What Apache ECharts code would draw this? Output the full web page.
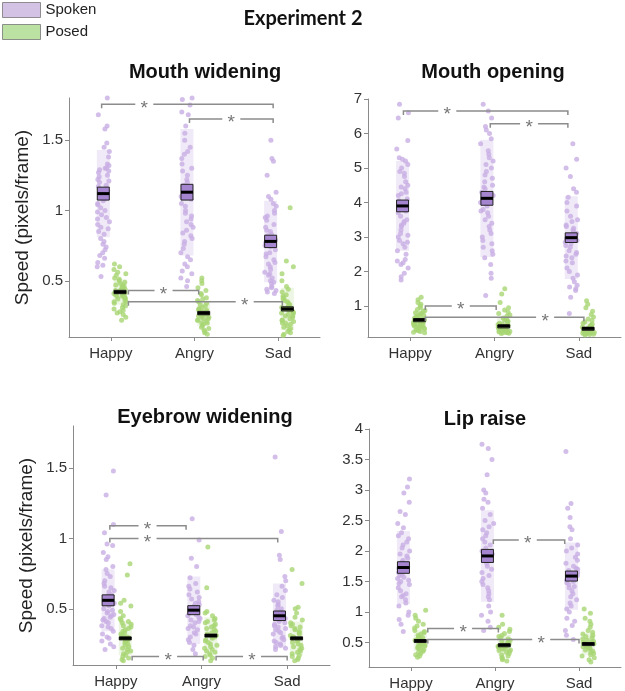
<!DOCTYPE html>
<html><head><meta charset="utf-8">
<script src="https://cdn.jsdelivr.net/npm/echarts@6/dist/echarts.min.js"></script>
<style>html,body{margin:0;padding:0;background:#fff}#c{width:625px;height:691px}</style>
</head><body><div id="c"></div><script>
// ---------------- DATA ----------------
const categories = ['Happy', 'Angry', 'Sad'];
const panelTitles = ['Mouth widening', 'Mouth opening', 'Eyebrow widening', 'Lip raise'];
const yRanges = [[0.1, 1.8], [0.1, 7], [0.1, 1.8], [0.1, 4]];
const yTickValues = [[0.5, 1, 1.5], [1, 2, 3, 4, 5, 6, 7], [0.5, 1, 1.5], [0.5, 1, 1.5, 2, 2.5, 3, 3.5, 4]];

// Mouth widening
const mouthWideningSpoken = [
  [1.8,1.68,1.6,1.58,1.48,1.45,1.42,1.38,1.33,1.32,1.3,1.3,1.29,1.28,1.27,1.25,1.24,1.22,1.21,1.2,1.18,1.17,1.15,1.14,1.12,1.1,1.08,1.07,1.05,1.04,1.02,1.0,0.99,0.97,0.95,0.94,0.92,0.9,0.88,0.87,0.85,0.83,0.8,0.78,0.76,0.74,0.72,0.7,0.68,0.66,0.63,0.61,0.6,0.53],
  [1.8,1.79,1.75,1.7,1.68,1.6,1.55,1.5,1.45,1.42,1.4,1.37,1.33,1.3,1.28,1.25,1.22,1.2,1.18,1.15,1.13,1.1,1.08,1.05,1.03,1.0,0.98,0.96,0.94,0.92,0.9,0.88,0.86,0.84,0.82,0.8,0.78,0.76,0.73,0.7,0.67,0.65,0.62,0.6,0.57,0.55,0.52,0.5,0.46],
  [1.5,1.37,1.35,1.25,1.13,1.1,1.08,1.05,1.03,1.0,0.98,0.96,0.95,0.93,0.9,0.88,0.86,0.85,0.83,0.82,0.8,0.79,0.78,0.77,0.75,0.74,0.72,0.7,0.69,0.67,0.65,0.63,0.62,0.6,0.58,0.56,0.55,0.54,0.52,0.5,0.49,0.48,0.46,0.45,0.44,0.43,0.42,0.41]
];
const mouthWideningPosed = [
  [0.62,0.6,0.58,0.56,0.55,0.54,0.52,0.51,0.5,0.49,0.48,0.47,0.47,0.46,0.45,0.45,0.44,0.44,0.43,0.43,0.42,0.42,0.41,0.41,0.4,0.4,0.39,0.39,0.38,0.38,0.37,0.37,0.36,0.35,0.35,0.34,0.33,0.32,0.31,0.3,0.29,0.28,0.27,0.26,0.24,0.22],
  [0.52,0.5,0.48,0.45,0.43,0.41,0.4,0.38,0.37,0.36,0.35,0.34,0.33,0.32,0.31,0.3,0.3,0.29,0.29,0.28,0.28,0.27,0.27,0.26,0.26,0.25,0.25,0.24,0.24,0.23,0.23,0.22,0.22,0.21,0.2,0.2,0.19,0.18,0.17,0.16,0.15,0.14,0.13,0.12],
  [1.02,0.64,0.6,0.55,0.5,0.46,0.44,0.42,0.4,0.39,0.38,0.37,0.36,0.35,0.34,0.33,0.32,0.31,0.31,0.3,0.3,0.29,0.28,0.28,0.27,0.27,0.26,0.25,0.25,0.24,0.23,0.22,0.22,0.21,0.2,0.2,0.19,0.18,0.17,0.16,0.15,0.14,0.13,0.12,0.11]
];
const mouthWideningSpokenStats = [[1.12, 0.31, 0.046], [1.13, 0.45, 0.056], [0.78, 0.29, 0.044]]; // mean, sd, sem
const mouthWideningPosedStats = [[0.42, 0.09, 0.012], [0.27, 0.09, 0.012], [0.30, 0.15, 0.015]];
const mouthWideningBrackets = [[0.89, 2.94, 1.755, 1.40], [1.94, 2.94, 1.65, 2.44], [1.21, 2.05, 0.43, 1.63], [1.21, 3.05, 0.35, 2.60]]; // x1, x2, y, star x

// Mouth opening
const mouthOpeningSpoken = [
  [6.85,6.6,6.45,5.8,5.55,5.3,5.25,5.2,5.1,5.0,4.9,4.85,4.75,4.6,4.5,4.45,4.4,4.3,4.25,4.2,4.1,4.05,4.0,3.95,3.9,3.85,3.8,3.75,3.7,3.6,3.5,3.45,3.4,3.35,3.3,3.2,3.1,3.05,3.0,2.9,2.85,2.8,2.7,2.6,2.5,2.35,2.3,2.25,2.2,2.1,1.95,1.85,1.75],
  [6.85,6.65,6.45,6.2,6.1,6.0,5.85,5.7,5.5,5.4,5.3,5.2,5.1,5.0,4.9,4.8,4.7,4.6,4.5,4.45,4.4,4.3,4.2,4.15,4.1,4.0,3.9,3.8,3.75,3.7,3.6,3.5,3.4,3.3,3.2,3.1,3.0,2.9,2.8,2.7,2.6,2.5,2.4,2.2,1.95,1.8,1.3],
  [5.7,5.25,5.0,4.75,4.4,4.3,4.15,4.0,3.9,3.75,3.6,3.5,3.45,3.35,3.3,3.25,3.2,3.15,3.1,3.05,3.0,2.95,2.9,2.85,2.8,2.75,2.7,2.6,2.55,2.5,2.45,2.4,2.3,2.25,2.1,2.0,1.9,1.8,1.7,1.6,1.55,1.5,1.45,1.25,0.78]
];
const mouthOpeningPosed = [
  [1.25,1.18,1.1,1.05,1.0,0.95,0.9,0.87,0.84,0.8,0.78,0.75,0.72,0.7,0.68,0.66,0.64,0.62,0.6,0.6,0.58,0.56,0.55,0.54,0.52,0.5,0.5,0.48,0.47,0.46,0.45,0.44,0.43,0.42,0.4,0.38,0.36,0.35,0.33,0.31,0.3,0.28,0.26,0.24,0.22],
  [1.5,1.35,1.1,0.95,0.88,0.82,0.78,0.74,0.7,0.65,0.62,0.6,0.56,0.53,0.5,0.48,0.46,0.44,0.42,0.4,0.38,0.37,0.36,0.35,0.34,0.33,0.32,0.31,0.3,0.3,0.29,0.28,0.27,0.26,0.25,0.24,0.23,0.22,0.21,0.2],
  [1.15,1.05,0.95,0.85,0.75,0.68,0.62,0.58,0.54,0.5,0.47,0.44,0.42,0.4,0.38,0.36,0.35,0.34,0.33,0.32,0.31,0.3,0.29,0.28,0.27,0.26,0.25,0.24,0.23,0.22,0.21,0.2,0.19,0.18,0.17,0.16]
];
const mouthOpeningSpokenStats = [[3.9, 1.3, 0.17], [4.12, 1.7, 0.2], [2.98, 1.2, 0.14]];
const mouthOpeningPosedStats = [[0.6, 0.25, 0.03], [0.42, 0.25, 0.03], [0.35, 0.2, 0.03]];
const mouthOpeningBrackets = [[0.92, 2.87, 6.65, 1.44], [1.95, 2.87, 6.28, 2.41], [1.18, 2.02, 1.0, 1.60], [1.18, 3.06, 0.67, 2.60]];

// Eyebrow widening
const eyebrowWideningSpoken = [
  [1.48,1.31,1.1,1.04,0.96,0.95,0.9,0.87,0.85,0.8,0.78,0.75,0.73,0.7,0.68,0.66,0.65,0.63,0.62,0.6,0.59,0.58,0.57,0.56,0.55,0.54,0.53,0.52,0.5,0.49,0.48,0.47,0.46,0.45,0.44,0.43,0.42,0.41,0.4,0.38,0.37,0.36,0.34,0.32,0.3,0.29,0.27,0.25,0.23,0.21],
  [1.14,0.99,0.86,0.8,0.72,0.68,0.66,0.64,0.62,0.6,0.58,0.57,0.55,0.54,0.53,0.52,0.51,0.5,0.49,0.48,0.47,0.46,0.45,0.44,0.43,0.42,0.41,0.4,0.38,0.37,0.36,0.35,0.33,0.32,0.3,0.28,0.26,0.24,0.21,0.18],
  [1.58,1.05,0.88,0.85,0.73,0.7,0.66,0.63,0.6,0.58,0.56,0.55,0.53,0.52,0.5,0.49,0.48,0.47,0.46,0.45,0.44,0.43,0.42,0.41,0.4,0.39,0.38,0.37,0.36,0.35,0.34,0.33,0.32,0.3,0.29,0.28,0.27,0.26,0.25,0.24,0.23,0.22,0.21]
];
const eyebrowWideningPosed = [
  [0.82,0.74,0.56,0.54,0.52,0.48,0.45,0.43,0.42,0.41,0.4,0.39,0.38,0.37,0.36,0.35,0.34,0.33,0.32,0.31,0.3,0.3,0.29,0.28,0.27,0.27,0.26,0.25,0.24,0.23,0.22,0.21,0.2,0.19,0.18,0.17,0.16,0.15,0.14,0.13],
  [0.94,0.65,0.48,0.47,0.45,0.43,0.42,0.41,0.4,0.39,0.38,0.37,0.36,0.35,0.34,0.33,0.32,0.31,0.3,0.3,0.29,0.28,0.27,0.26,0.25,0.24,0.23,0.22,0.21,0.2,0.19,0.18,0.17,0.16,0.15,0.13],
  [0.78,0.68,0.51,0.5,0.47,0.44,0.42,0.4,0.39,0.38,0.37,0.36,0.35,0.34,0.33,0.32,0.31,0.3,0.3,0.29,0.28,0.27,0.26,0.25,0.24,0.23,0.22,0.21,0.2,0.19,0.18,0.17,0.16,0.15,0.14,0.13]
];
const eyebrowWideningSpokenStats = [[0.56, 0.22, 0.039], [0.49, 0.24, 0.032], [0.45, 0.23, 0.034]];
const eyebrowWideningPosedStats = [[0.29, 0.12, 0.01], [0.31, 0.13, 0.01], [0.29, 0.12, 0.01]];
const eyebrowWideningBrackets = [[0.93, 1.82, 1.09, 1.37], [0.93, 2.89, 1.0, 1.37], [1.19, 2.02, 0.16, 1.61], [2.17, 3.0, 0.16, 2.59]];

// Lip raise
const lipRaiseSpoken = [
  [3.18,3.05,2.95,2.8,2.65,2.6,2.45,2.38,2.3,2.25,2.2,2.15,2.1,2.05,2.0,1.95,1.92,1.88,1.85,1.82,1.8,1.78,1.75,1.72,1.7,1.68,1.65,1.62,1.6,1.57,1.55,1.52,1.5,1.47,1.45,1.4,1.35,1.3,1.27,1.25,1.2,1.15,1.1,1.0,0.95,0.88,0.8,0.68],
  [3.75,3.68,3.5,3.25,3.0,2.95,2.85,2.8,2.7,2.6,2.5,2.45,2.4,2.35,2.3,2.25,2.2,2.15,2.1,2.05,2.0,1.95,1.9,1.85,1.8,1.75,1.7,1.65,1.6,1.55,1.5,1.45,1.4,1.35,1.3,1.25,1.2,1.1,1.0,0.95,0.85,0.75,0.7],
  [3.63,2.78,2.7,2.55,2.4,2.35,2.2,2.1,2.05,2.0,1.95,1.9,1.85,1.8,1.75,1.72,1.7,1.68,1.65,1.62,1.6,1.58,1.55,1.52,1.5,1.48,1.45,1.42,1.4,1.35,1.3,1.25,1.2,1.15,1.1,1.05,1.0,0.9,0.85,0.78,0.7,0.62,0.55]
];
const lipRaisePosed = [
  [1.03,0.95,0.9,0.85,0.8,0.77,0.74,0.7,0.68,0.66,0.64,0.62,0.6,0.58,0.57,0.56,0.55,0.54,0.53,0.52,0.51,0.5,0.49,0.48,0.47,0.46,0.45,0.44,0.43,0.42,0.41,0.4,0.38,0.36,0.34,0.32,0.3,0.28,0.26],
  [0.95,0.8,0.75,0.72,0.68,0.65,0.62,0.6,0.58,0.56,0.54,0.52,0.5,0.49,0.48,0.47,0.46,0.45,0.44,0.43,0.42,0.41,0.4,0.39,0.38,0.37,0.36,0.34,0.32,0.3,0.28,0.26,0.24,0.22,0.2],
  [1.05,0.98,0.9,0.85,0.8,0.75,0.7,0.67,0.64,0.62,0.6,0.58,0.56,0.54,0.52,0.51,0.5,0.49,0.48,0.47,0.46,0.45,0.44,0.43,0.42,0.41,0.4,0.38,0.36,0.34,0.32,0.3,0.28,0.25,0.22,0.18]
];
const lipRaiseSpokenStats = [[1.73, 0.6, 0.095], [1.92, 0.75, 0.107], [1.59, 0.55, 0.082]];
const lipRaisePosedStats = [[0.53, 0.17, 0.02], [0.46, 0.17, 0.02], [0.48, 0.18, 0.02]];
const lipRaiseBrackets = [[1.98, 2.83, 2.18, 2.39], [1.2, 2.04, 0.73, 1.62], [1.2, 3.0, 0.55, 2.55]];

// ---------------- LAYOUT / STYLE ----------------
const spokenData = [mouthWideningSpoken, mouthOpeningSpoken, eyebrowWideningSpoken, lipRaiseSpoken];
const posedData = [mouthWideningPosed, mouthOpeningPosed, eyebrowWideningPosed, lipRaisePosed];
const spokenStats = [mouthWideningSpokenStats, mouthOpeningSpokenStats, eyebrowWideningSpokenStats, lipRaiseSpokenStats];
const posedStats = [mouthWideningPosedStats, mouthOpeningPosedStats, eyebrowWideningPosedStats, lipRaisePosedStats];
const brackets = [mouthWideningBrackets, mouthOpeningBrackets, eyebrowWideningBrackets, lipRaiseBrackets];

const grids = [
  {left: 69, top: 98, width: 251, height: 239},
  {left: 368, top: 99, width: 253, height: 238},
  {left: 73, top: 426, width: 257, height: 239},
  {left: 369, top: 429, width: 252, height: 238}
];
const titlePos = [[200, 57], [488, 57], [200, 402], [480, 404]];
const SPOKEN_OFF = -0.09, POSED_OFF = 0.11;
const C = {
  spoken: '#c8aee3', posed: '#a8d673',
  spokenBand: '#f0e9f7', posedBand: '#edf6e4',
  spokenBox: '#a585cf', posedBox: '#8fc25c',
  axis: '#8a8a8a', text: '#333333', bracket: '#8c8c8c'
};
const FONT = 'Liberation Sans, Arial, sans-serif';

// deterministic horizontal scatter offset (visual spread only, not data)
function jitter(i) {
  const h = Math.sin(i * 127.1 + 311.7) * 43758.5453;
  return ((h - Math.floor(h)) - 0.5) * 0.15;
}

function bandRender(color) {
  return function (params, api) {
    const x = api.value(0), m = api.value(1), s = api.value(2);
    const a = api.coord([x, m + s]), b = api.coord([x, m - s]);
    const w = 13;
    return {type: 'rect', shape: {x: a[0] - w / 2, y: a[1], width: w, height: b[1] - a[1]}, style: {fill: color}, silent: true};
  };
}
function boxRender(fill) {
  return function (params, api) {
    const x = api.value(0), m = api.value(1), se = api.value(2);
    const a = api.coord([x, m + se]), b = api.coord([x, m - se]), c = api.coord([x, m]);
    const w = 12;
    return {type: 'group', children: [
      {type: 'rect', shape: {x: a[0] - w / 2, y: a[1], width: w, height: Math.max(b[1] - a[1], 3)}, style: {fill: fill, stroke: '#222', lineWidth: 1}},
      {type: 'rect', shape: {x: c[0] - w / 2, y: c[1] - 1.5, width: w, height: 3}, style: {fill: '#000'}}
    ]};
  };
}
function bracketRender(params, api) {
  const x1 = api.value(0), x2 = api.value(1), y = api.value(2), xs = api.value(3);
  const a = api.coord([x1, y]), b = api.coord([x2, y]), s = api.coord([xs, y]);
  const st = {stroke: C.bracket, lineWidth: 1.5, fill: null};
  const gap = 9, tk = 4;
  return {type: 'group', children: [
    {type: 'polyline', shape: {points: [[a[0], a[1] + tk], [a[0], a[1]], [s[0] - gap, a[1]]]}, style: st},
    {type: 'polyline', shape: {points: [[s[0] + gap, b[1]], [b[0], b[1]], [b[0], b[1] + tk]]}, style: st},
    {type: 'text', x: s[0], y: s[1] + 4, style: {text: '*', fill: '#777', font: '19px ' + FONT, align: 'center', verticalAlign: 'middle'}}
  ]};
}

const xAxes = [], yAxes = [], series = [], titles = [];
titles.push({text: 'Experiment 2', left: 298, top: 4, textAlign: 'center',
  textStyle: {fontFamily: 'Lato, Open Sans, sans-serif', fontWeight: 'bold', fontSize: 20, color: '#111'}});
for (let p = 0; p < 4; p++) {
  titles.push({text: panelTitles[p], left: titlePos[p][0], top: titlePos[p][1], textAlign: 'center',
    textStyle: {fontFamily: FONT, fontWeight: 'bold', fontSize: 20, color: '#111'}});
  xAxes.push({gridIndex: p, type: 'value', min: 0.5, max: 3.5,
    axisLine: {show: true, onZero: false, lineStyle: {color: C.axis, width: 1}},
    axisTick: {show: true, customValues: [1, 2, 3], length: 4, inside: false, lineStyle: {color: C.axis}},
    axisLabel: {show: true, customValues: [1, 2, 3], margin: 9, fontSize: 15, color: C.text, fontFamily: FONT,
      formatter: function (v) { return categories[Math.round(v) - 1]; }},
    splitLine: {show: false}});
  yAxes.push({gridIndex: p, type: 'value', min: yRanges[p][0], max: yRanges[p][1],
    axisLine: {show: true, onZero: false, lineStyle: {color: C.axis, width: 1}},
    axisTick: {show: true, customValues: yTickValues[p], length: 4, lineStyle: {color: C.axis}},
    axisLabel: {show: true, customValues: yTickValues[p], margin: 6, fontSize: 15, color: C.text, fontFamily: FONT,
      formatter: function (v) { return String(v); }},
    splitLine: {show: false},
    name: (p % 2 === 0) ? 'Speed (pixels/frame)' : '', nameLocation: 'middle', nameGap: 37,
    nameTextStyle: {fontSize: 19, color: '#222', fontFamily: FONT}});

  const sBand = [], pBand = [], sPts = [], pPts = [], sBox = [], pBox = [];
  for (let g = 0; g < 3; g++) {
    const xs = g + 1 + SPOKEN_OFF, xp = g + 1 + POSED_OFF;
    sBand.push([xs, spokenStats[p][g][0], spokenStats[p][g][1]]);
    pBand.push([xp, posedStats[p][g][0], posedStats[p][g][1]]);
    sBox.push([xs, spokenStats[p][g][0], spokenStats[p][g][2]]);
    pBox.push([xp, posedStats[p][g][0], posedStats[p][g][2]]);
    spokenData[p][g].forEach(function (v, i) { sPts.push([xs + jitter(p * 1000 + g * 100 + i), v]); });
    posedData[p][g].forEach(function (v, i) { pPts.push([xp + jitter(p * 1000 + g * 100 + i + 50), v]); });
  }
  const base = {xAxisIndex: p, yAxisIndex: p};
  series.push(Object.assign({type: 'custom', name: 'bandS' + p, renderItem: bandRender(C.spokenBand), data: sBand, z: 1, clip: true, silent: true}, base));
  series.push(Object.assign({type: 'custom', name: 'bandP' + p, renderItem: bandRender(C.posedBand), data: pBand, z: 1, clip: true, silent: true}, base));
  series.push(Object.assign({type: 'scatter', name: 'Spoken', data: sPts, symbolSize: 5, itemStyle: {color: C.spoken}, z: 2, silent: true}, base));
  series.push(Object.assign({type: 'scatter', name: 'Posed', data: pPts, symbolSize: 5, itemStyle: {color: C.posed}, z: 2, silent: true}, base));
  series.push(Object.assign({type: 'custom', name: 'boxS' + p, renderItem: boxRender(C.spokenBox), data: sBox, z: 3, silent: true}, base));
  series.push(Object.assign({type: 'custom', name: 'boxP' + p, renderItem: boxRender(C.posedBox), data: pBox, z: 3, silent: true}, base));
  series.push(Object.assign({type: 'custom', name: 'br' + p, renderItem: bracketRender, data: brackets[p], z: 4, clip: false, silent: true,
    encode: {x: [0, 1], y: 2}}, base));
}

const chart = echarts.init(document.getElementById('c'), null, {renderer: 'canvas'});
chart.setOption({
  backgroundColor: '#fff',
  animation: false,
  title: titles,
  legend: {orient: 'vertical', left: 2, top: 2, padding: 0, itemWidth: 38, itemHeight: 15, itemGap: 6, selectedMode: false,
    textStyle: {fontSize: 15, color: '#222', fontFamily: FONT},
    data: [
      {name: 'Spoken', icon: 'rect', itemStyle: {color: '#c9b3de', borderColor: '#777', borderWidth: 1}},
      {name: 'Posed', icon: 'rect', itemStyle: {color: '#aad98c', borderColor: '#777', borderWidth: 1}}
    ]},
  grid: grids,
  xAxis: xAxes,
  yAxis: yAxes,
  series: series
});
</script></body></html>
